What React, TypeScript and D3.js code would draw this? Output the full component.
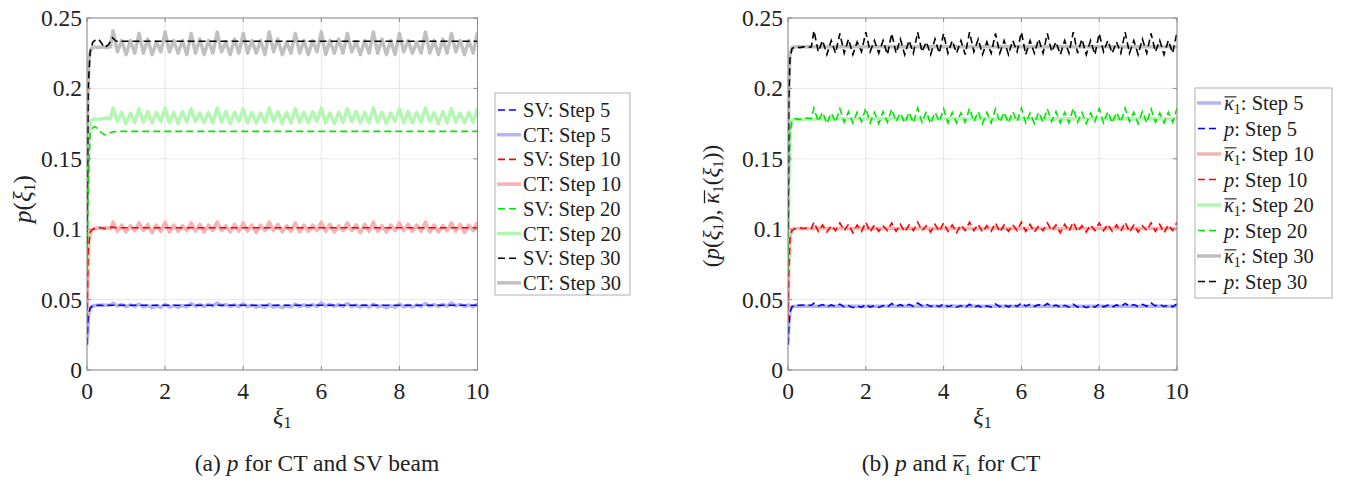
import React, { useLayoutEffect, useRef, useState } from 'react';
import * as d3 from 'd3';

// ---------- data ----------
const X_TICKS = [0, 2, 4, 6, 8, 10];
const Y_TICKS = [0, 0.05, 0.1, 0.15, 0.2, 0.25];
const Y_TICK_LABELS = ['0', '0.05', '0.1', '0.15', '0.2', '0.25'];
const STEPS = [5, 10, 20, 30];

// sampling positions along xi_1
const X_EARLY = [0, 0.02, 0.05, 0.1, 0.15, 0.2, 0.3, 0.4, 0.5, 0.6];
const X_OSC = d3.range(85).map((k) => 0.667 + k / 9);
const X_FINE = [...X_EARLY, ...X_OSC];

// p for CT (solid in (a), dashed in (b))
const P_CT_5 = [
  0.018, 0.03, 0.041, 0.0448, 0.0455, 0.0458, 0.046, 0.0462, 0.046, 0.0461,
  0.0475, 0.0455, 0.0465, 0.045, 0.0462, 0.0452,
  0.0468, 0.0448, 0.0458, 0.0443, 0.0456, 0.0445,
  0.0466, 0.0447, 0.0457, 0.0444, 0.0458, 0.0448,
  0.0472, 0.0452, 0.0464, 0.0451, 0.0466, 0.0453,
  0.0476, 0.0456, 0.0466, 0.0451, 0.0463, 0.045,
  0.047, 0.045, 0.046, 0.0446, 0.0458, 0.0445,
  0.0467, 0.0446, 0.0457, 0.0443, 0.0456, 0.0447,
  0.0469, 0.045, 0.0462, 0.0449, 0.0465, 0.0452,
  0.0477, 0.0455, 0.0466, 0.0452, 0.0464, 0.0451,
  0.0472, 0.0451, 0.0461, 0.0447, 0.0459, 0.0446,
  0.0467, 0.0447, 0.0457, 0.0443, 0.0456, 0.0446,
  0.0468, 0.0449, 0.046, 0.0447, 0.0462, 0.045,
  0.0473, 0.0453, 0.0465, 0.0451, 0.0466, 0.0453,
  0.0476, 0.0455, 0.0466, 0.0451, 0.0462, 0.0449,
  0.047,
];
const P_CT_10 = [
  0.035, 0.07, 0.093, 0.099, 0.1, 0.1005, 0.101, 0.1005, 0.101, 0.1005,
  0.105, 0.0985, 0.103, 0.098, 0.1025, 0.099,
  0.1045, 0.099, 0.1035, 0.0975, 0.103, 0.0985,
  0.105, 0.098, 0.103, 0.0985, 0.1025, 0.099,
  0.1045, 0.0985, 0.1035, 0.098, 0.103, 0.099,
  0.105, 0.099, 0.1025, 0.098, 0.1035, 0.0985,
  0.1045, 0.0985, 0.103, 0.0975, 0.103, 0.099,
  0.105, 0.099, 0.1035, 0.098, 0.1025, 0.0985,
  0.1045, 0.098, 0.103, 0.0985, 0.103, 0.099,
  0.105, 0.0985, 0.1035, 0.098, 0.1025, 0.099,
  0.1045, 0.099, 0.103, 0.0975, 0.1035, 0.0985,
  0.105, 0.0985, 0.1025, 0.098, 0.103, 0.099,
  0.1045, 0.099, 0.1035, 0.0985, 0.103, 0.0985,
  0.105, 0.098, 0.103, 0.098, 0.1025, 0.099,
  0.1045, 0.0985, 0.1035, 0.0975, 0.103, 0.099,
  0.105,
];
const P_CT_20 = [
  0.07, 0.125, 0.168, 0.177, 0.178, 0.1785, 0.178, 0.1785, 0.179, 0.1785,
  0.186, 0.1765, 0.183, 0.175, 0.1825, 0.176,
  0.1855, 0.176, 0.1835, 0.1755, 0.183, 0.1765,
  0.186, 0.1755, 0.183, 0.175, 0.1835, 0.176,
  0.1855, 0.1765, 0.1825, 0.1755, 0.183, 0.1755,
  0.186, 0.176, 0.1835, 0.175, 0.183, 0.1765,
  0.1855, 0.1755, 0.183, 0.1755, 0.1825, 0.176,
  0.186, 0.1765, 0.1835, 0.175, 0.183, 0.1755,
  0.1855, 0.176, 0.183, 0.1755, 0.1835, 0.1765,
  0.186, 0.1755, 0.1825, 0.175, 0.183, 0.176,
  0.1855, 0.1765, 0.1835, 0.1755, 0.183, 0.1755,
  0.186, 0.176, 0.183, 0.175, 0.1825, 0.1765,
  0.1855, 0.1755, 0.1835, 0.1755, 0.183, 0.176,
  0.186, 0.1765, 0.183, 0.175, 0.1835, 0.1755,
  0.1855, 0.176, 0.1825, 0.1755, 0.183, 0.176,
  0.186,
];
const P_CT_30 = [
  0.1, 0.19, 0.221, 0.228, 0.229, 0.2295, 0.229, 0.2295, 0.229, 0.2295,
  0.241, 0.226, 0.234, 0.224, 0.234, 0.225,
  0.239, 0.225, 0.235, 0.224, 0.233, 0.226,
  0.24, 0.226, 0.234, 0.225, 0.234, 0.224,
  0.239, 0.225, 0.235, 0.224, 0.234, 0.225,
  0.24, 0.226, 0.233, 0.224, 0.235, 0.225,
  0.239, 0.225, 0.234, 0.225, 0.234, 0.224,
  0.24, 0.226, 0.235, 0.224, 0.233, 0.225,
  0.239, 0.225, 0.234, 0.224, 0.234, 0.226,
  0.24, 0.224, 0.234, 0.225, 0.235, 0.225,
  0.239, 0.226, 0.233, 0.224, 0.234, 0.225,
  0.24, 0.225, 0.235, 0.224, 0.234, 0.224,
  0.239, 0.226, 0.234, 0.225, 0.233, 0.225,
  0.24, 0.225, 0.234, 0.224, 0.235, 0.225,
  0.239, 0.226, 0.234, 0.224, 0.234, 0.225,
  0.24,
];

// p for SV beam (dashed in (a))
const X_SV = [0, 0.03, 0.08, 0.15, 0.2, 0.3, 0.35, 0.45, 0.55, 0.65, 0.75, 1, 2, 3, 4, 5, 6, 7, 8, 9, 10];
const P_SV_5 = [0.018, 0.038, 0.044, 0.0455, 0.0458, 0.046, 0.046, 0.0458, 0.046, 0.046, 0.046, 0.046, 0.046, 0.046, 0.046, 0.046, 0.046, 0.046, 0.046, 0.046, 0.046];
const P_SV_10 = [0.035, 0.085, 0.098, 0.1, 0.1005, 0.101, 0.101, 0.1005, 0.101, 0.1015, 0.101, 0.101, 0.101, 0.101, 0.101, 0.101, 0.101, 0.101, 0.101, 0.101, 0.101];
const P_SV_20 = [0.07, 0.13, 0.168, 0.172, 0.173, 0.171, 0.169, 0.167, 0.168, 0.169, 0.1695, 0.1695, 0.1695, 0.1695, 0.1695, 0.1695, 0.1695, 0.1695, 0.1695, 0.1695, 0.1695];
const P_SV_30 = [0.09, 0.2, 0.226, 0.233, 0.234, 0.235, 0.233, 0.229, 0.231, 0.236, 0.2335, 0.2335, 0.2335, 0.2335, 0.2335, 0.2335, 0.2335, 0.2335, 0.2335, 0.2335, 0.2335];

// kappa_bar_1 for CT (solid in (b))
const X_K = [0, 0.02, 0.05, 0.1, 0.15, 0.2, 1, 2, 3, 4, 5, 6, 7, 8, 9, 10];
const K_5 = [0.018, 0.032, 0.042, 0.045, 0.0452, 0.0452, 0.0452, 0.0452, 0.0452, 0.0452, 0.0452, 0.0452, 0.0452, 0.0452, 0.0452, 0.0452];
const K_10 = [0.035, 0.075, 0.095, 0.1, 0.1005, 0.1005, 0.1005, 0.1005, 0.1005, 0.1005, 0.1005, 0.1005, 0.1005, 0.1005, 0.1005, 0.1005];
const K_20 = [0.07, 0.13, 0.17, 0.177, 0.178, 0.178, 0.1785, 0.1785, 0.1785, 0.1785, 0.1785, 0.1785, 0.1785, 0.1785, 0.1785, 0.1785];
const K_30 = [0.1, 0.2, 0.224, 0.229, 0.2295, 0.2295, 0.2295, 0.2295, 0.2295, 0.2295, 0.2295, 0.2295, 0.2295, 0.2295, 0.2295, 0.2295];

// ---------- styles ----------
const FONT = '"Liberation Serif", "Times New Roman", serif';
const DARK = ['#0000ff', '#ff0000', '#00e600', '#000000'];
const LIGHT = ['#b3b3f7', '#f7b3b3', '#b3f7b3', '#c0c0c0'];
const DASH = '7,4';
const TEXT_COLOR = '#222';
const AXIS_COLOR = '#8a8a8a';
const GRID_COLOR = '#e6e6e6';
const TICK_FS = 23.5;

type Series = { xs: number[]; ys: number[]; color: string; dashed: boolean };

const Sub = ({ children, size = 15 }: { children: React.ReactNode; size?: number }) => (
  <tspan fontSize={size} dy={4}>{children}</tspan>
);

// italic kappa; its overline is drawn by BarText after measuring
const Kappa = () => <tspan fontStyle="italic" data-bar="1">κ</tspan>;

type Bar = { x1: number; x2: number; y: number };

function BarText({
  transform, x, y, fontSize, anchor = 'start', children,
}: { transform?: string; x?: number; y?: number; fontSize: number; anchor?: string; children: React.ReactNode }) {
  const ref = useRef<SVGTextElement>(null);
  const [bars, setBars] = useState<Bar[]>([]);
  useLayoutEffect(() => {
    const el = ref.current;
    if (!el) return;
    const out: Bar[] = [];
    el.querySelectorAll('[data-bar]').forEach((n) => {
      const b = (n as SVGGraphicsElement).getBBox();
      out.push({ x1: b.x + 0.5, x2: b.x + b.width + 1.5, y: b.y + b.height * 0.22 });
    });
    setBars(out);
  }, []);
  return (
    <g transform={transform}>
      <text ref={ref} x={x} y={y} textAnchor={anchor} fontSize={fontSize} fontFamily={FONT} fill={TEXT_COLOR}>
        {children}
      </text>
      {bars.map((b, i) => (
        <line key={i} x1={b.x1} x2={b.x2} y1={b.y} y2={b.y} stroke={TEXT_COLOR} strokeWidth={Math.max(1, fontSize / 18)} />
      ))}
    </g>
  );
}

function Panel({
  x0, x1, y0, y1, id, series,
}: { x0: number; x1: number; y0: number; y1: number; id: string; series: Series[] }) {
  const xs = d3.scaleLinear().domain([0, 10]).range([x0, x1]);
  const ys = d3.scaleLinear().domain([0, 0.25]).range([y0, y1]);
  return (
    <g>
      <defs>
        <clipPath id={id}>
          <rect x={x0} y={y1} width={x1 - x0} height={y0 - y1} />
        </clipPath>
      </defs>
      {X_TICKS.map((t) => (
        <line key={'gx' + t} x1={xs(t)} x2={xs(t)} y1={y0} y2={y1} stroke={GRID_COLOR} strokeWidth={1} />
      ))}
      {Y_TICKS.map((t) => (
        <line key={'gy' + t} x1={x0} x2={x1} y1={ys(t)} y2={ys(t)} stroke={GRID_COLOR} strokeWidth={1} />
      ))}
      <g clipPath={`url(#${id})`}>
        {series.filter((s) => !s.dashed).map((s, i) => (
          <path
            key={'s' + i}
            d={d3.line<number>().x((_, j) => xs(s.xs[j])).y((v) => ys(v))(s.ys) || ''}
            fill="none" stroke={s.color} strokeWidth={3.5} strokeLinejoin="round"
          />
        ))}
        {series.filter((s) => s.dashed).map((s, i) => (
          <path
            key={'d' + i}
            d={d3.line<number>().x((_, j) => xs(s.xs[j])).y((v) => ys(v))(s.ys) || ''}
            fill="none" stroke={s.color} strokeWidth={1.6} strokeDasharray={DASH}
          />
        ))}
      </g>
      <rect x={x0} y={y1} width={x1 - x0} height={y0 - y1} fill="none" stroke={AXIS_COLOR} strokeWidth={1} />
      {X_TICKS.map((t) => (
        <g key={'tx' + t}>
          <line x1={xs(t)} x2={xs(t)} y1={y0} y2={y0 - 4} stroke={AXIS_COLOR} />
          <line x1={xs(t)} x2={xs(t)} y1={y1} y2={y1 + 4} stroke={AXIS_COLOR} />
          <text x={xs(t)} y={y0 + 29} textAnchor="middle" fontSize={TICK_FS} fontFamily={FONT} fill={TEXT_COLOR}>{t}</text>
        </g>
      ))}
      {Y_TICKS.map((t, i) => (
        <g key={'ty' + t}>
          <line x1={x0} x2={x0 + 4} y1={ys(t)} y2={ys(t)} stroke={AXIS_COLOR} />
          <line x1={x1} x2={x1 - 4} y1={ys(t)} y2={ys(t)} stroke={AXIS_COLOR} />
          <text x={x0 - 5} y={ys(t) + 8} textAnchor="end" fontSize={TICK_FS} fontFamily={FONT} fill={TEXT_COLOR}>{Y_TICK_LABELS[i]}</text>
        </g>
      ))}
      <text x={(x0 + x1) / 2} y={y0 + 54} textAnchor="middle" fontSize={24} fontFamily={FONT} fill={TEXT_COLOR}>
        <tspan fontStyle="italic">ξ</tspan><Sub size={16}>1</Sub>
      </text>
    </g>
  );
}

function LegendSample({ x, y, color, dashed }: { x: number; y: number; color: string; dashed: boolean }) {
  return dashed ? (
    <line x1={x + 1} x2={x + 23} y1={y} y2={y} stroke={color} strokeWidth={1.6} strokeDasharray={DASH} />
  ) : (
    <line x1={x} x2={x + 24} y1={y} y2={y} stroke={color} strokeWidth={3.5} />
  );
}

export default function App() {
  const left = { x0: 87, x1: 477.5, y0: 370, y1: 18 };
  const right = { x0: 788, x1: 1177, y0: 370, y1: 18 };

  const ctP = [P_CT_5, P_CT_10, P_CT_20, P_CT_30];
  const svP = [P_SV_5, P_SV_10, P_SV_20, P_SV_30];
  const kap = [K_5, K_10, K_20, K_30];

  const leftSeries: Series[] = [];
  const rightSeries: Series[] = [];
  STEPS.forEach((_, i) => {
    leftSeries.push({ xs: X_SV, ys: svP[i], color: DARK[i], dashed: true });
    leftSeries.push({ xs: X_FINE, ys: ctP[i], color: LIGHT[i], dashed: false });
    rightSeries.push({ xs: X_K, ys: kap[i], color: LIGHT[i], dashed: false });
    rightSeries.push({ xs: X_FINE, ys: ctP[i], color: DARK[i], dashed: true });
  });

  const lLeg = { x: 495, y: 93, w: 135, h: 202, first: 110, step: 24.7 };
  const rLeg = { x: 1195, y: 88, w: 137, h: 210, first: 103, step: 25.5 };

  return (
    <svg width={1346} height={482} style={{ position: 'absolute', left: 0, top: 0, background: '#fff' }}>
      <rect x={0} y={0} width={1346} height={482} fill="#fff" />
      <Panel {...left} id="clipA" series={leftSeries} />
      <Panel {...right} id="clipB" series={rightSeries} />

      {/* y labels */}
      <text transform="translate(31,199) rotate(-90)" textAnchor="middle" fontSize={25} fontFamily={FONT} fill={TEXT_COLOR}>
        <tspan fontStyle="italic">p</tspan>(<tspan fontStyle="italic">ξ</tspan><Sub size={16}>1</Sub><tspan dy={-4}>)</tspan>
      </text>
      <BarText transform="translate(719,206) rotate(-90)" x={0} y={0} anchor="middle" fontSize={23}>
        (<tspan fontStyle="italic">p</tspan>(<tspan fontStyle="italic">ξ</tspan><Sub>1</Sub><tspan dy={-4}>), </tspan>
        <Kappa /><Sub>1</Sub><tspan dy={-4}>(</tspan><tspan fontStyle="italic">ξ</tspan><Sub>1</Sub><tspan dy={-4}>))</tspan>
      </BarText>

      {/* legend (a) */}
      <rect x={lLeg.x} y={lLeg.y} width={lLeg.w} height={lLeg.h} fill="#fff" stroke="#b0b0b0" strokeWidth={1} />
      {STEPS.flatMap((s, i) => {
        const items = [
          { label: `SV: Step ${s}`, color: DARK[i], dashed: true },
          { label: `CT: Step ${s}`, color: LIGHT[i], dashed: false },
        ];
        return items.map((it, k) => {
          const cy = lLeg.first + (i * 2 + k) * lLeg.step;
          return (
            <g key={'la' + i + k}>
              <LegendSample x={lLeg.x + 2} y={cy} color={it.color} dashed={it.dashed} />
              <text x={lLeg.x + 28} y={cy + 7} fontSize={20.5} fontFamily={FONT} fill={TEXT_COLOR}>{it.label}</text>
            </g>
          );
        });
      })}

      {/* legend (b) */}
      <rect x={rLeg.x} y={rLeg.y} width={rLeg.w} height={rLeg.h} fill="#fff" stroke="#b0b0b0" strokeWidth={1} />
      {STEPS.flatMap((s, i) => {
        const items = [
          { kind: 'k', color: LIGHT[i], dashed: false },
          { kind: 'p', color: DARK[i], dashed: true },
        ];
        return items.map((it, k) => {
          const cy = rLeg.first + (i * 2 + k) * rLeg.step;
          return (
            <g key={'lb' + i + k}>
              <LegendSample x={rLeg.x + 2} y={cy} color={it.color} dashed={it.dashed} />
              {it.kind === 'k' ? (
                <BarText x={rLeg.x + 29} y={cy + 7} fontSize={20.5}>
                  <Kappa /><Sub size={14}>1</Sub><tspan dy={-4}>: Step {s}</tspan>
                </BarText>
              ) : (
                <text x={rLeg.x + 29} y={cy + 7} fontSize={20.5} fontFamily={FONT} fill={TEXT_COLOR}>
                  <tspan fontStyle="italic">p</tspan>: Step {s}
                </text>
              )}
            </g>
          );
        });
      })}

      {/* captions */}
      <text x={317} y={471} textAnchor="middle" fontSize={23.5} fontFamily={FONT} fill={TEXT_COLOR}>
        (a) <tspan fontStyle="italic">p</tspan> for CT and SV beam
      </text>
      <BarText x={951} y={471} anchor="middle" fontSize={23.5}>
        (b) <tspan fontStyle="italic">p</tspan> and <Kappa /><Sub>1</Sub><tspan dy={-4}> for CT</tspan>
      </BarText>
    </svg>
  );
}
